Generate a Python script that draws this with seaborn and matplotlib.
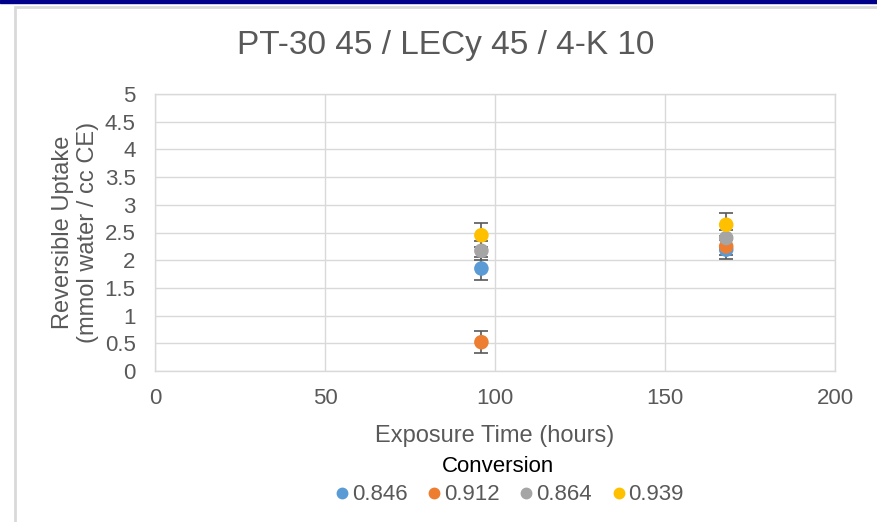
import matplotlib
matplotlib.use("Agg")
import matplotlib.pyplot as plt
import seaborn as sns
import pandas as pd
from matplotlib.patches import Rectangle

# datos
horas = [96, 168]
conversiones = ["0.846", "0.912", "0.864", "0.939"]
uptake_0846 = [1.85, 2.19]
uptake_0912 = [0.52, 2.25]
uptake_0864 = [2.17, 2.40]
uptake_0939 = [2.45, 2.64]
error_0846 = [0.20, 0.17]
error_0912 = [0.20, 0.15]
error_0864 = [0.17, 0.15]
error_0939 = [0.22, 0.21]
colores = ["#5B9BD5", "#ED7D31", "#A5A5A5", "#FFC000"]

valores = [uptake_0846, uptake_0912, uptake_0864, uptake_0939]
errores = [error_0846, error_0912, error_0864, error_0939]

filas = []
for conv, ys, es in zip(conversiones, valores, errores):
    for h, y, e in zip(horas, ys, es):
        filas.append({"horas": h, "uptake": y, "err": e, "Conversion": conv})
df = pd.DataFrame(filas)

sns.set_theme(style="white")
plt.rcParams["font.family"] = ["Liberation Sans", "DejaVu Sans"]

fig = plt.figure(figsize=(8.77, 5.22), dpi=100)
ax = fig.add_axes([155 / 877, 1 - 371 / 522, (835 - 155) / 877, (371 - 94) / 522])

# marco y banda superior
fig.patches.append(Rectangle((0, 1 - 3 / 522), 1, 3 / 522, transform=fig.transFigure,
                             color="#00008B", zorder=0))
fig.patches.append(Rectangle((15 / 877, -0.05), 1, 1 - 7 / 522 + 0.05, transform=fig.transFigure,
                             fill=False, edgecolor="#D9D9D9", linewidth=2, zorder=0))

for conv, c in zip(conversiones, colores):
    d = df[df["Conversion"] == conv]
    ax.errorbar(d["horas"], d["uptake"], yerr=d["err"], fmt="none", ecolor="#595959",
                elinewidth=1.2, capsize=5, capthick=1.2, zorder=2)

sns.scatterplot(data=df, x="horas", y="uptake", hue="Conversion", hue_order=conversiones,
                palette=colores, s=110, edgecolor="none", ax=ax, zorder=3, legend=False)

ax.set_xlim(0, 200)
ax.set_ylim(0, 5)
ax.set_xticks([0, 50, 100, 150, 200])
ax.set_yticks([i * 0.5 for i in range(11)])
ax.set_yticklabels(["0", "0.5", "1", "1.5", "2", "2.5", "3", "3.5", "4", "4.5", "5"])
ax.grid(True, color="#D9D9D9", linewidth=1)
for s in ax.spines.values():
    s.set_color("#D9D9D9")
    s.set_linewidth(1)
ax.tick_params(axis="both", colors="#595959", labelsize=16, length=0)
ax.tick_params(axis="x", pad=12)
ax.tick_params(axis="y", pad=14)

ax.set_xlabel("Exposure Time (hours)", fontsize=17, color="#595959", labelpad=12)
ax.set_ylabel("Reversible Uptake\n(mmol water / cc CE)", fontsize=17, color="#595959", labelpad=4)
fig.text(0.508, 1 - 45 / 522, "PT-30 45 / LECy 45 / 4-K 10", ha="center", va="center",
         fontsize=24, color="#595959")

# leyenda
fig.text(498 / 877, 1 - 466 / 522, "Conversion", ha="center", va="center",
         fontsize=16, color="black")
handles = [plt.Line2D([], [], marker="o", linestyle="none", color=c, markersize=7.5)
           for c in colores]
leg = fig.legend(handles, conversiones, loc="center",
                 bbox_to_anchor=(510 / 877, 1 - 495 / 522), ncol=4, frameon=False,
                 fontsize=16, handlelength=0.5, handletextpad=0.2, columnspacing=0.95,
                 borderpad=0)
for t in leg.get_texts():
    t.set_color("#595959")

fig.savefig("out.png", dpi=100)
